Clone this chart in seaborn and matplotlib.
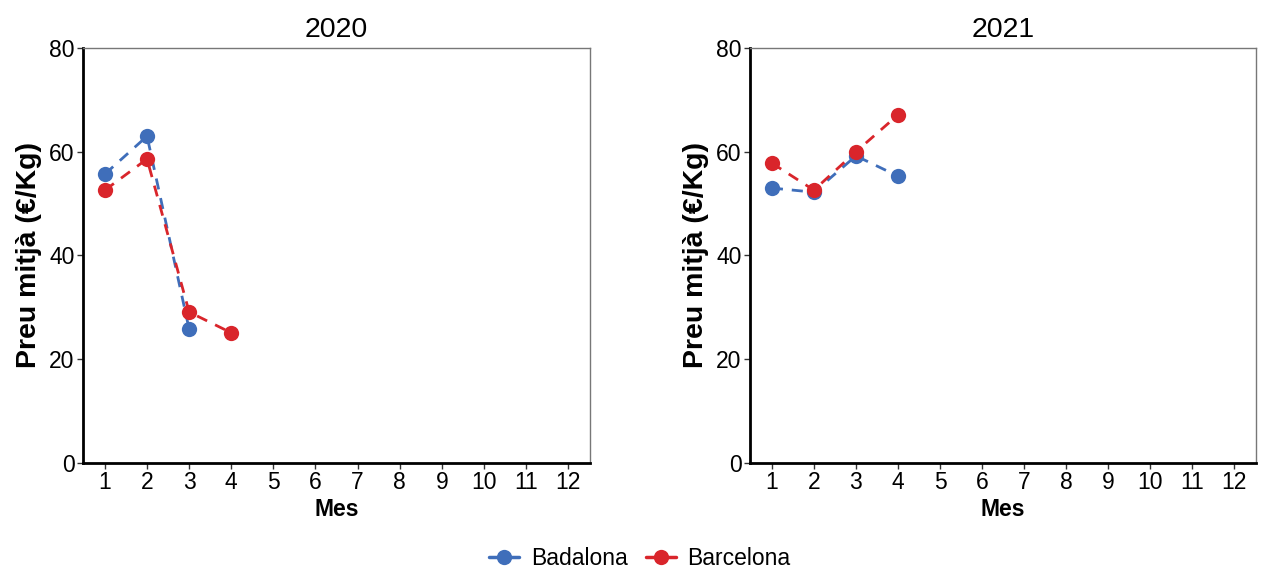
import matplotlib
matplotlib.use("Agg")
import matplotlib.pyplot as plt
import seaborn as sns
import pandas as pd
from matplotlib.lines import Line2D

sns.set_style("white")
plt.rcParams['font.family'] = ['Liberation Sans', 'DejaVu Sans']
plt.rcParams['text.color'] = 'black'
plt.rcParams['axes.labelcolor'] = 'black'
plt.rcParams['xtick.color'] = 'black'
plt.rcParams['ytick.color'] = 'black'

cities = ["Badalona", "Barcelona"]
months_2020_bdn = [1, 2, 3]
price_2020_bdn = [55.7, 63.0, 25.8]
months_2020_bcn = [1, 2, 3, 4]
price_2020_bcn = [52.6, 58.6, 29.1, 25.1]
months_2021_bdn = [1, 2, 3, 4]
price_2021_bdn = [53.0, 52.2, 59.2, 55.3]
months_2021_bcn = [1, 2, 3, 4]
price_2021_bcn = [57.8, 52.6, 60.0, 67.1]
years = ["2020", "2021"]
month_ticks = list(range(1, 13))
y_ticks = [0, 20, 40, 60, 80]

colors = {"Badalona": "#3F6EBA", "Barcelona": "#D9252B"}

def make_df(mb, pb, mc, pc):
    return pd.DataFrame({
        "Mes": mb + mc,
        "Preu": pb + pc,
        "Ciutat": [cities[0]] * len(mb) + [cities[1]] * len(mc),
    })

dfs = [make_df(months_2020_bdn, price_2020_bdn, months_2020_bcn, price_2020_bcn),
       make_df(months_2021_bdn, price_2021_bdn, months_2021_bcn, price_2021_bcn)]

fig = plt.figure(figsize=(12.62, 5.76), dpi=100)
positions = [[0.0658, 0.1962, 0.4017, 0.7205], [0.5943, 0.1962, 0.4010, 0.7205]]

for pos, df, yr in zip(positions, dfs, years):
    ax = fig.add_axes(pos)
    sns.lineplot(data=df, x="Mes", y="Preu", hue="Ciutat", hue_order=cities,
                 palette=colors, ax=ax, linestyle=(0, (4, 3.2)), linewidth=2.0,
                 marker="o", markersize=11, markeredgewidth=0, legend=False)
    ax.set_xlim(0.48, 12.52)
    ax.set_ylim(0, 80)
    ax.set_xticks(month_ticks)
    ax.set_yticks(y_ticks)
    ax.tick_params(axis="both", labelsize=16.5, length=4, width=1.0, color="#333333",
                   labelcolor="black", direction="out", bottom=True, left=True, pad=2)
    ax.set_xlabel("Mes", fontsize=16.5, fontweight="bold", labelpad=3)
    ax.set_ylabel("Preu mitjà (€/Kg)", fontsize=20.5, fontweight="bold", labelpad=5)
    ax.set_title(yr, fontsize=20.5, pad=8)
    for s in ["left", "bottom"]:
        ax.spines[s].set_color("black")
        ax.spines[s].set_linewidth(2.0)
    for s in ["top", "right"]:
        ax.spines[s].set_color("#777777")
        ax.spines[s].set_linewidth(1.0)

handles = [Line2D([0], [0], color=colors[c], linewidth=2.5, marker="o",
                  markersize=11, markeredgewidth=0) for c in cities]
fig.legend(handles, cities, loc="center", bbox_to_anchor=(0.507, 0.03), ncol=2,
           frameon=False, fontsize=16.5, handlelength=1.3, handletextpad=0.5,
           columnspacing=0.8)

fig.savefig("out.png", dpi=100, facecolor="white")
